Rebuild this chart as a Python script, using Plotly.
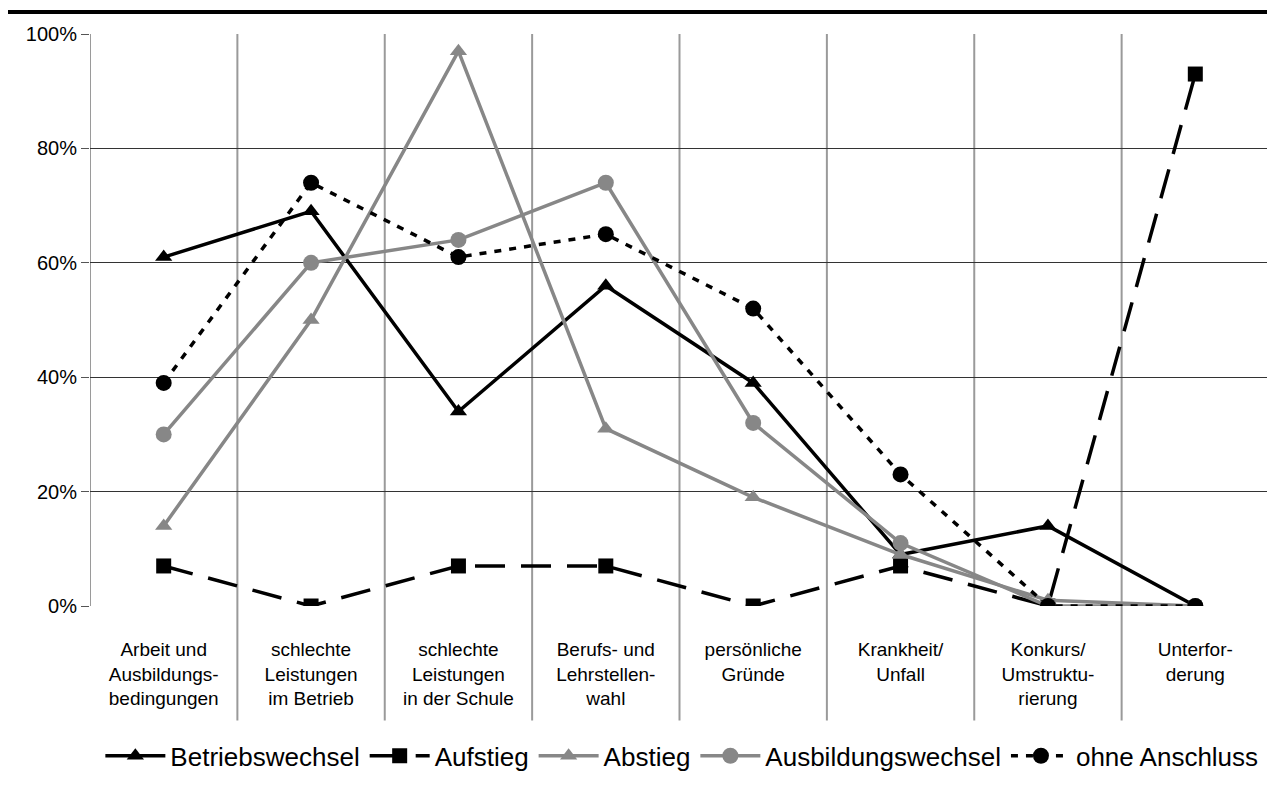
import plotly.graph_objects as go

categories = [
    "Arbeit und<br>Ausbildungs-<br>bedingungen",
    "schlechte<br>Leistungen<br>im Betrieb",
    "schlechte<br>Leistungen<br>in der Schule",
    "Berufs- und<br>Lehrstellen-<br>wahl",
    "persönliche<br>Gründe",
    "Krankheit/<br>Unfall",
    "Konkurs/<br>Umstruktu-<br>rierung",
    "Unterfor-<br>derung",
]

betriebswechsel = [61, 69, 34, 56, 39, 9, 14, 0]
aufstieg = [7, 0, 7, 7, 0, 7, 0, 93]
abstieg = [14, 50, 97, 31, 19, 9, 1, 0]
ausbildungswechsel = [30, 60, 64, 74, 32, 11, 0, 0]
ohne_anschluss = [39, 74, 61, 65, 52, 23, 0, 0]

y_ticks = [0, 20, 40, 60, 80, 100]
y_ticklabels = ["0%", "20%", "40%", "60%", "80%", "100%"]

BLACK = "#000000"
GRAY = "#878787"

x = list(range(len(categories)))

fig = go.Figure()

series = [
    ("Betriebswechsel", betriebswechsel, BLACK, "solid", "triangle-up", 15),
    ("Aufstieg", aufstieg, BLACK, "30px,16px", "square", 15),
    ("Abstieg", abstieg, GRAY, "solid", "triangle-up", 15),
    ("Ausbildungswechsel", ausbildungswechsel, GRAY, "solid", "circle", 16),
    ("ohne Anschluss", ohne_anschluss, BLACK, "7px,8px", "circle", 16),
]

for name, vals, color, dash, symbol, msize in series:
    fig.add_trace(go.Scatter(
        x=x, y=vals, name=name, mode="lines+markers",
        line=dict(color=color, width=3.5, dash=dash),
        marker=dict(symbol=symbol, size=msize, color=color),
    ))

shapes = []
# vertical category separators extending into the label area
for k in range(len(categories) + 1):
    shapes.append(dict(
        type="line", xref="x", yref="paper",
        x0=k - 0.5, x1=k - 0.5,
        y0=(0 if k == 0 else -0.2), y1=1,
        line=dict(color="#9a9a9a", width=2), layer="below",
    ))
# thick rule at the top (under a cut-off title)
shapes.append(dict(
    type="line", xref="paper", yref="paper",
    x0=-0.08, x1=1.01, y0=1.0385, y1=1.0385,
    line=dict(color="#000000", width=4),
))

fig.update_layout(
    width=1267, height=781,
    margin=dict(l=82, r=6, t=26, b=183, autoexpand=False),
    paper_bgcolor="white", plot_bgcolor="white",
    font=dict(family="Liberation Sans, Arial, sans-serif", color="#000000"),
    showlegend=True,
    legend=dict(
        orientation="h", x=0.502, xanchor="center", y=-0.262, yanchor="middle",
        font=dict(size=26), itemwidth=60, tracegroupgap=0,
        bgcolor="rgba(0,0,0,0)",
    ),
    shapes=shapes,
)

fig.update_xaxes(
    range=[-0.5, len(categories) - 0.5],
    tickmode="array", tickvals=x, ticktext=categories,
    tickfont=dict(size=19), showgrid=False, ticks="",
    ticklabelstandoff=30,
    showline=False, zeroline=False,
)
fig.update_yaxes(
    range=[0, 100],
    tickmode="array", tickvals=y_ticks, ticktext=y_ticklabels,
    tickfont=dict(size=20), ticks="outside", ticklen=8, tickcolor="#555555",
    showgrid=True, gridcolor="#333333", gridwidth=1,
    showline=False, zeroline=False,
)

fig.write_html("out.html")
